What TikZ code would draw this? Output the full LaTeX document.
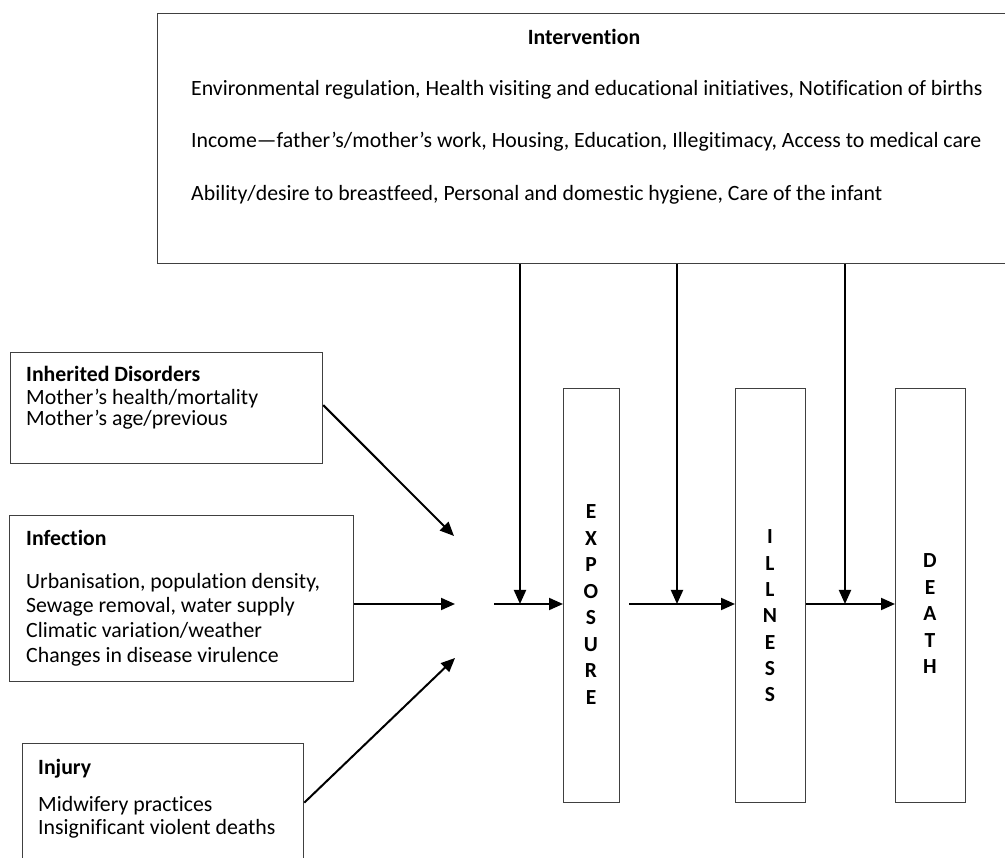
\documentclass[tikz,border=0pt]{standalone}
\usepackage{fontspec}
\setmainfont{Carlito}[Ligatures=NoCommon]
\usetikzlibrary{arrows.meta}
\begin{document}
\begin{tikzpicture}[x=1pt,y=-1pt,
  box/.style={draw=black!75, line width=1.3pt, rectangle, inner sep=0pt, anchor=north west},
  txt/.style={anchor=mid west, inner sep=0pt, yshift=-4.5pt, font=\fontsize{21.8}{26}\selectfont},
  ttl/.style={anchor=mid west, inner sep=0pt, yshift=-4.5pt, font=\bfseries\fontsize{21.8}{26}\selectfont},
  vlet/.style={inner sep=0pt, font=\bfseries\fontsize{21.5}{26}\selectfont},
  arr/.style={line width=2pt, -{Triangle[length=14pt,width=12pt]}},
  ]
\useasboundingbox (0,0) rectangle (1005,858);

% boxes
\node[box, minimum width=860pt, minimum height=250pt] (int) at (157,13) {};
\node[box, minimum width=312pt, minimum height=111pt] (inh) at (10,352) {};
\node[box, minimum width=344pt, minimum height=166pt] (inf) at (9,515) {};
\node[box, minimum width=281pt, minimum height=130pt] (inj) at (22,743) {};
\node[box, minimum width=56pt, minimum height=414pt] (exp) at (563,388) {};
\node[box, minimum width=70pt, minimum height=414pt] (ill) at (735,388) {};
\node[box, minimum width=70pt, minimum height=414pt] (dea) at (895,388) {};

% intervention text
\node[ttl, anchor=mid] (intt) at (584,38) {Intervention};
\node[txt] (int1) at (191,89) {Environmental regulation, Health visiting and educational initiatives, Notification of births};
\node[txt] (int2) at (191,141) {Income—father’s/mother’s work, Housing, Education, Illegitimacy, Access to medical care};
\node[txt] (int3) at (191,194) {Ability/desire to breastfeed, Personal and domestic hygiene, Care of the infant};

% inherited
\node[ttl] (inht) at (26,375) {Inherited Disorders};
\node[txt] (inh1) at (26,398) {Mother’s health/mortality};
\node[txt] (inh2) at (26,419) {Mother’s age/previous};

% infection
\node[ttl] (inft) at (26,539) {Infection};
\node[txt] (inf1) at (26,582) {Urbanisation, population density,};
\node[txt] (inf2) at (26,606) {Sewage removal, water supply};
\node[txt] (inf3) at (26,631) {Climatic variation/weather};
\node[txt] (inf4) at (26,656) {Changes in disease virulence};

% injury
\node[ttl] (injt) at (38,768) {Injury};
\node[txt] (inj1) at (38,805) {Midwifery practices};
\node[txt] (inj2) at (38,828) {Insignificant violent deaths};

% vertical letters
\foreach \l [count=\i from 0] in {E,X,P,O,S,U,R,E}
  \node[vlet] (ex\i) at (591,{512+26.5*\i}) {\l};
\foreach \l [count=\i from 0] in {I,L,L,N,E,S,S}
  \node[vlet] (il\i) at (770,{537+26.3*\i}) {\l};
\foreach \l [count=\i from 0] in {D,E,A,T,H}
  \node[vlet] (de\i) at (930,{561+26.5*\i}) {\l};

% junction coordinates
\coordinate (t1) at (454,536);
\coordinate (t2) at (455,604);
\coordinate (t3) at (455,658);
\coordinate (s1) at (494,604);
\coordinate (s2) at (629,604);
\coordinate (j1) at (520,604);
\coordinate (j2) at (677,604);
\coordinate (j3) at (845,604);

% left arrows
\draw[arr] ([yshift=3pt]inh.east) -- (t1);
\draw[arr] (inf.east |- t2) -- (t2);
\draw[arr] ([yshift=6pt]inj.east) -- (t3);

% main chain
\draw[arr] (s1) -- (s1 -| exp.west);
\draw[arr] (s2) -- (s2 -| ill.west);
\draw[arr] (j3 -| ill.east) -- (j3 -| dea.west);

% intervention arrows
\draw[arr] (int.south -| j1) -- (j1);
\draw[arr] (int.south -| j2) -- (j2);
\draw[arr] (int.south -| j3) -- (j3);
\end{tikzpicture}
\end{document}
